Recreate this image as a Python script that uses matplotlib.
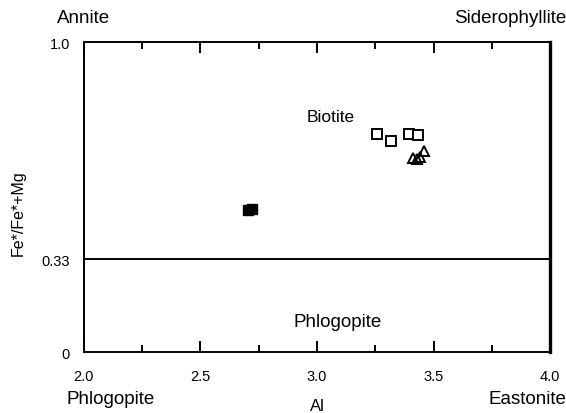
import matplotlib.pyplot as plt
import numpy as np

plt.rcParams['font.family'] = ['Liberation Sans', 'DejaVu Sans']

# biotite analyses
sq_open_al = [3.256, 3.316, 3.394, 3.435]
sq_open_fe = [0.705, 0.682, 0.704, 0.700]
tri_al = [3.410, 3.428, 3.440, 3.460]
tri_fe = [0.625, 0.622, 0.628, 0.648]
sq_fill_al = [2.705, 2.720]
sq_fill_fe = [0.457, 0.462]

boundary_y = 0.30          # where the 0.33 line sits on the drawing
ytick_pos = [0, boundary_y, 1.0]
ytick_lab = ['0', '0.33', '1.0']
xtick_major = [2.0, 2.5, 3.0, 3.5, 4.0]
xtick_minor = [2.25, 2.75, 3.25, 3.75]

fig = plt.figure(figsize=(5.66, 4.14), dpi=100)
ax = fig.add_axes([0.148, 0.147, 0.824, 0.749])

ax.axhline(boundary_y, color='black', lw=1.4)

ax.plot(sq_open_al, sq_open_fe, 's', ms=6.5, mfc='white', mec='black', mew=1.4, ls='none')
ax.plot(tri_al, tri_fe, '^', ms=7, mfc='none', mec='black', mew=1.4, ls='none')
ax.plot(sq_fill_al, sq_fill_fe, 's', ms=6.5, mfc='black', mec='black', ls='none')

ax.set_xlim(2.0, 4.0)
ax.set_ylim(0, 1.0)

ax.set_xticks(xtick_major)
ax.set_xticklabels([f'{v:.1f}' for v in xtick_major])
ax.set_xticks(xtick_minor, minor=True)
ax.tick_params(axis='x', which='both', direction='in', top=True, bottom=True,
               width=1.4, labelsize=10.5, pad=12, colors='black')
ax.tick_params(axis='x', which='major', length=8)
ax.tick_params(axis='x', which='minor', length=5)

ax.set_yticks(ytick_pos)
ax.set_yticklabels(ytick_lab)
ax.tick_params(axis='y', length=0, labelsize=10.5, pad=10)

for s in ['left', 'top', 'bottom']:
    ax.spines[s].set_linewidth(1.4)
ax.spines['right'].set_linewidth(2.4)

fig.text(0.032, 0.485, 'Fe*/Fe*+Mg', fontsize=11.5, rotation=90, ha='center', va='center')

ax.text(3.06, 0.76, 'Biotite', fontsize=12.5, ha='center', va='center')
ax.text(3.09, 0.10, 'Phlogopite', fontsize=13.5, ha='center', va='center')

fig.text(0.148, 0.955, 'Annite', fontsize=13.5, ha='center', va='center')
fig.text(1.0, 0.955, 'Siderophyllite', fontsize=13.5, ha='right', va='center')
fig.text(0.195, 0.035, 'Phlogopite', fontsize=13.5, ha='center', va='center')
fig.text(1.0, 0.035, 'Eastonite', fontsize=13.5, ha='right', va='center')
fig.text(0.561, 0.0, 'Al', fontsize=12, ha='center', va='bottom')

fig.savefig('out.png', dpi=100)
